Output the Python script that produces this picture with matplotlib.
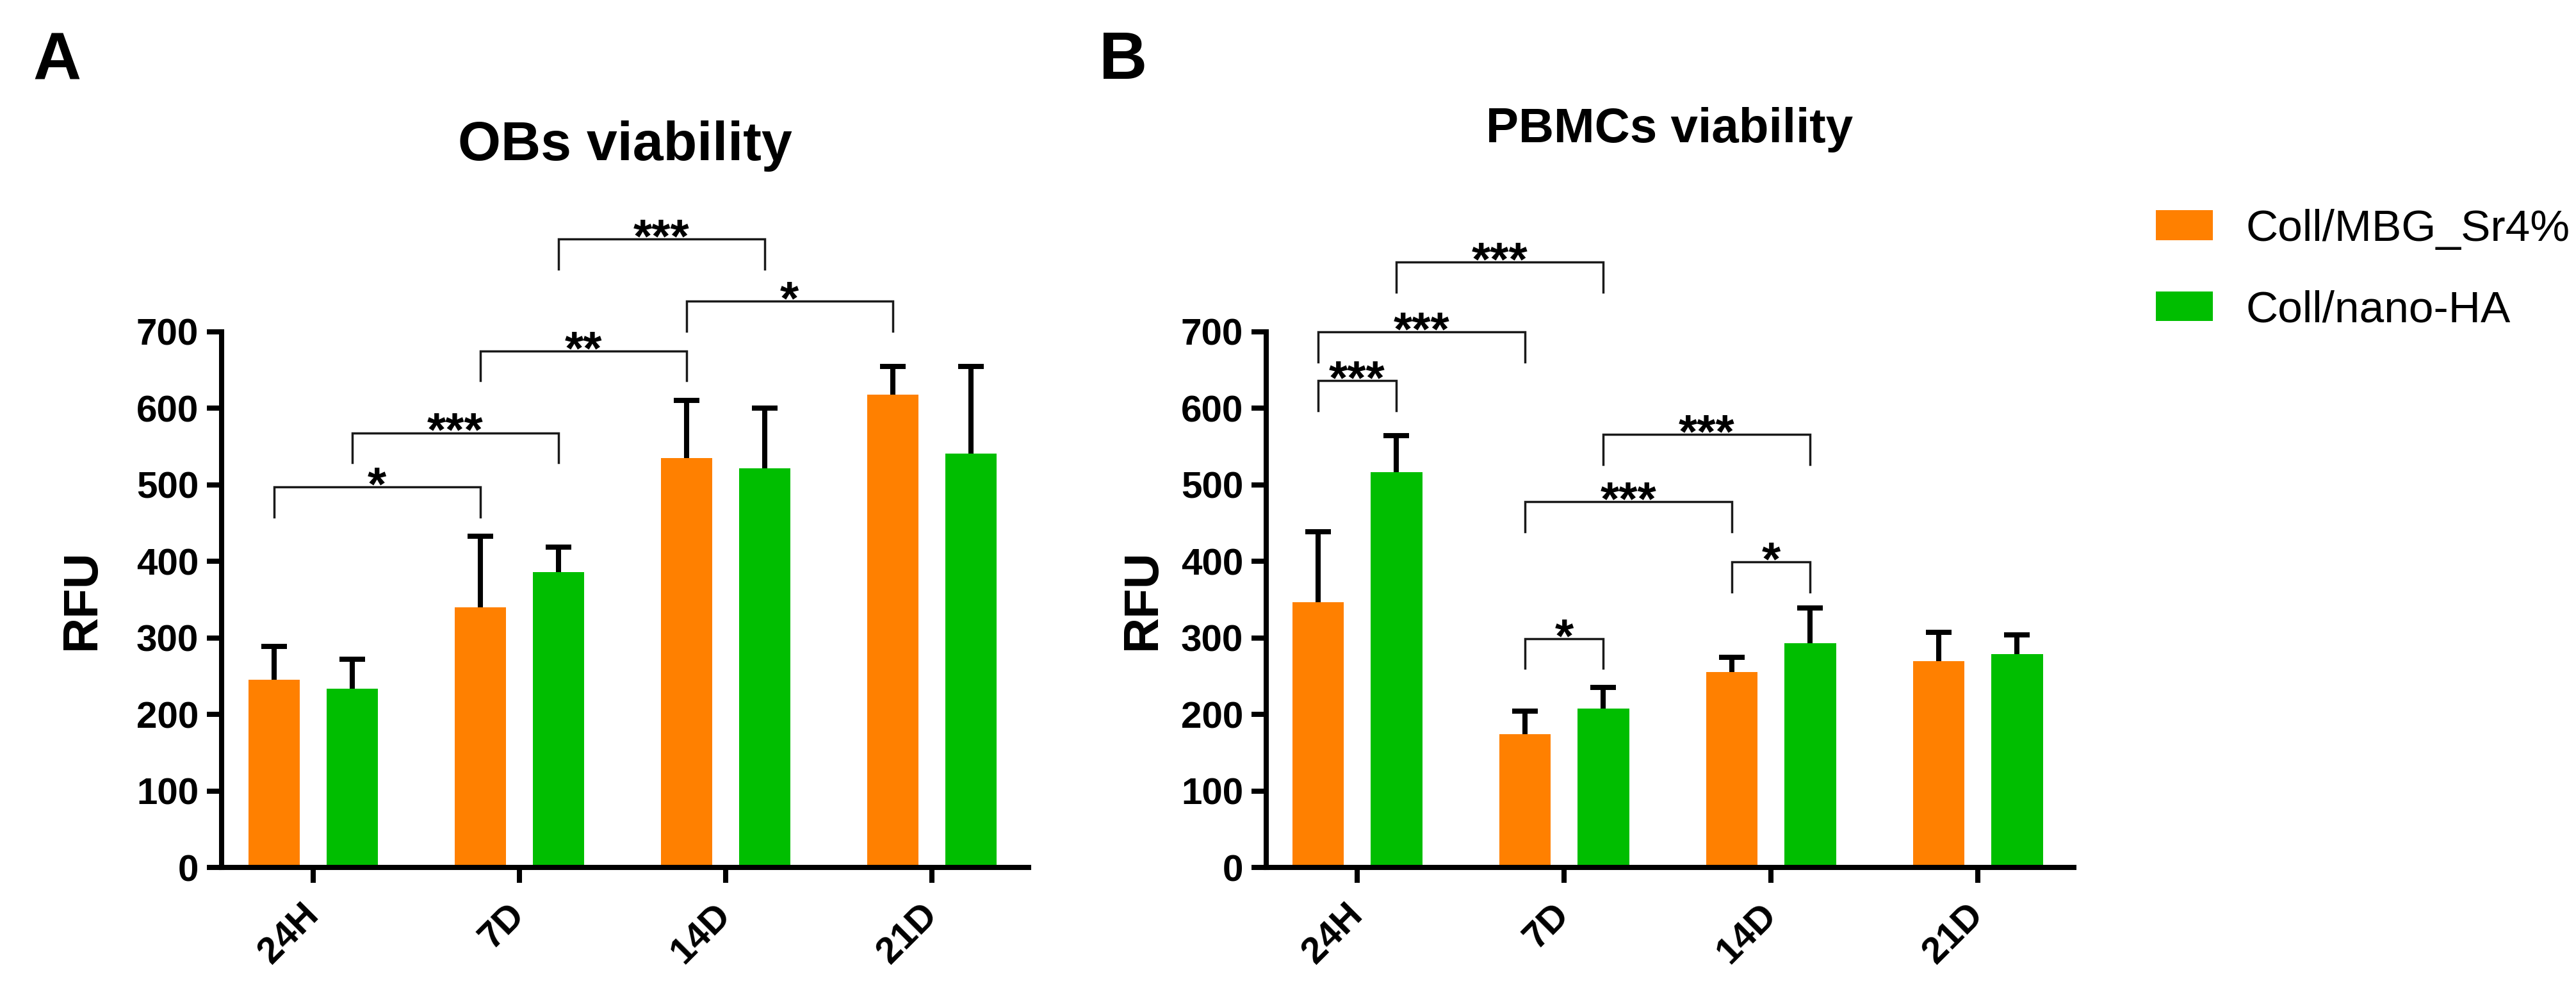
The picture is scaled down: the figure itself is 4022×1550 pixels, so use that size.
import matplotlib
matplotlib.use('Agg')
import matplotlib.pyplot as plt
import numpy as np

plt.rcParams['font.family'] = ['Liberation Sans', 'DejaVu Sans']

# ---------------- data ----------------
categories = ['24H', '7D', '14D', '21D']
series_names = ['Coll/MBG_Sr4%', 'Coll/nano-HA']
colors = ['#FF8000', '#00BE00']

obs_sr_mean = [245, 340, 535, 618]
obs_sr_sd = [44, 93, 75, 37]
obs_ha_mean = [234, 386, 522, 541]
obs_ha_sd = [38, 33, 78, 114]

pbmc_sr_mean = [347, 174, 255, 270]
pbmc_sr_sd = [92, 30, 20, 37]
pbmc_ha_mean = [517, 208, 293, 279]
pbmc_ha_sd = [47, 27, 46, 25]

# brackets: (group a, series a, group b, series b, height, label)
obs_brackets = [
    (0, 0, 1, 0, 497, '*'),
    (0, 1, 1, 1, 568, '***'),
    (1, 0, 2, 0, 675, '**'),
    (1, 1, 2, 1, 821, '***'),
    (2, 0, 3, 0, 740, '*'),
]
pbmc_brackets = [
    (0, 0, 0, 1, 636, '***'),
    (0, 0, 1, 0, 700, '***'),
    (0, 1, 1, 1, 791, '***'),
    (1, 0, 2, 0, 478, '***'),
    (1, 1, 2, 1, 566, '***'),
    (2, 0, 2, 1, 399, '*'),
    (1, 0, 1, 1, 299, '*'),
]

# ---------------- figure ----------------
W, H = 4022, 1550
fig = plt.figure(figsize=(W / 100, H / 100), dpi=100)

LW = 5.8
offset = 0.19
width = 0.248
leg_drop = 39


def make_panel(rect, xlim, means, sds, brackets, title, title_x, title_y, title_size,
               ylabel_x):
    ax = fig.add_axes(rect)
    x = np.arange(len(categories))
    bars = []
    for i, (m, s) in enumerate(zip(means, sds)):
        xi = x + (2 * i - 1) * offset
        b = ax.bar(xi, m, width=width, color=colors[i], zorder=2, label=series_names[i])
        bars.append(b)
        eb = ax.errorbar(xi, m, yerr=[np.zeros(len(m)), s], fmt='none', ecolor='black',
                         elinewidth=LW, capsize=14.4, capthick=LW, zorder=1)
        # show only the upper cap
        eb[1][0].set_visible(False)
    for ga, sa, gb, sb, h, lab in brackets:
        xa = ga + (2 * sa - 1) * offset
        xb = gb + (2 * sb - 1) * offset
        ax.plot([xa, xa, xb, xb], [h - leg_drop, h, h, h - leg_drop], color='#1a1a1a',
                lw=2.5, clip_on=False, solid_joinstyle='miter', zorder=3)
        ax.annotate(lab, xy=((xa + xb) / 2, h), xytext=(0, -14.5), textcoords='offset points',
                    ha='center', va='baseline', fontsize=54, fontweight='bold', color='black',
                    annotation_clip=False)
    ax.set_xlim(*xlim)
    ax.set_ylim(0, 700)
    ax.set_yticks(np.arange(0, 701, 100))
    ax.set_xticks(x)
    ax.set_xticklabels(categories, rotation=45, rotation_mode='anchor', ha='right',
                       va='center', fontsize=42, fontweight='bold')
    for t in ax.get_yticklabels():
        t.set_fontsize(42)
        t.set_fontweight('bold')
    for sp in ['top', 'right']:
        ax.spines[sp].set_visible(False)
    for sp in ['left', 'bottom']:
        ax.spines[sp].set_linewidth(LW)
        ax.spines[sp].set_capstyle('projecting')
    ax.tick_params(axis='y', length=16.5, width=LW, pad=9.4)
    ax.tick_params(axis='x', length=17, width=LW, pad=30)
    ax.set_ylabel('RFU', fontsize=55, fontweight='bold')
    ax.yaxis.set_label_coords(ylabel_x, 0.5)
    fig.text(title_x, title_y, title, ha='center', va='baseline', fontsize=title_size,
             fontweight='bold')
    return ax, bars


y0 = 1 - 1354 / H
hgt = 836 / H
axA, barsA = make_panel([346 / W, y0, 1260 / W, hgt], (-0.444, 3.469),
                        [obs_sr_mean, obs_ha_mean], [obs_sr_sd, obs_ha_sd], obs_brackets,
                        'OBs viability', 976 / W, 1 - 250 / H, 62, -0.1444)
axB, barsB = make_panel([1977 / W, y0, 1261 / W, hgt], (-0.44, 3.464),
                        [pbmc_sr_mean, pbmc_ha_mean], [pbmc_sr_sd, pbmc_ha_sd], pbmc_brackets,
                        'PBMCs viability', 2607 / W, 1 - 222 / H, 55, -0.1245)

fig.text(51 / W, 1 - 123 / H, 'A', fontsize=75, fontweight='bold', va='baseline', ha='left')
fig.text(1716 / W, 1 - 123 / H, 'B', fontsize=75, fontweight='bold', va='baseline', ha='left')

fig.legend(handles=barsA, labels=series_names, loc='upper left',
           bbox_to_anchor=(3366 / W, 1 - 326 / H), frameon=False, fontsize=50,
           handlelength=1.28, handleheight=0.65, handletextpad=0.75,
           labelspacing=0.9, borderpad=0, borderaxespad=0)

fig.savefig('out.png', dpi=100, facecolor='white')
